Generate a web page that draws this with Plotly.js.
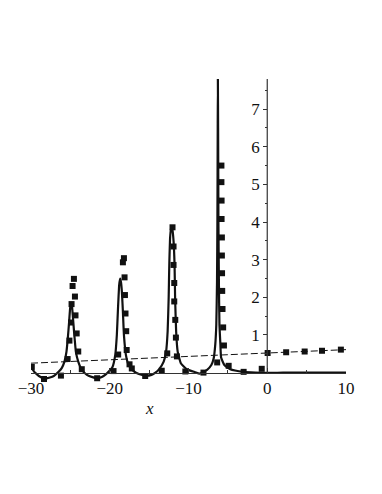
<!DOCTYPE html>
<html>
<head>
<meta charset="utf-8">
<script src="https://cdn.plot.ly/plotly-3.0.1.min.js"></script>
<style>
  html, body { margin: 0; padding: 0; background: #fff; }
  #plot { width: 382px; height: 494px; }
</style>
</head>
<body>
<div id="plot"></div>
<script>
// solid curve
const curveX = [
  -30, -29.5, -29, -28.3, -27.6, -27.1, -26.5, -26.1, -25.75, -25.5, -25.33, -25.16, -25.03, -24.9,
  -24.8, -24.7, -24.53, -24.3, -24.0, -23.55, -22.9, -22.2, -21.6, -21.0, -20.5, -20.16,
  -19.65, -19.3, -19.1, -18.97, -18.8, -18.68, -18.57, -18.46, -18.33, -18.2, -17.95, -17.6,
  -16.97, -16.3, -15.5, -14.7, -14.2, -13.7, -13.15, -12.85, -12.65, -12.52, -12.44, -12.33,
  -12.2, -12.05, -11.9, -11.77, -11.7, -11.57, -11.37, -10.95, -10.23, -9.16, -8.6, -7.64,
  -7.1, -6.8, -6.6, -6.47, -6.38, -6.33, -6.29, -6.27, -6.24, -6.2, -6.14, -6.07, -5.95,
  -5.86, -5.44, -4.7, -3.0, -1.5, 0, 2, 4, 6, 8, 10
];
const curveY = [
  0.14, 0.0, -0.09, -0.16, -0.13, -0.09, 0.02, 0.12, 0.29, 0.55, 0.9, 1.35, 1.71, 1.85,
  1.78, 1.53, 1.08, 0.55, 0.29, 0.07, -0.06, -0.12, -0.15, -0.12, -0.05, 0.02,
  0.15, 0.47, 1.0, 1.62, 2.33, 2.5, 2.4, 2.15, 1.62, 1.0, 0.47, 0.2,
  0.04, -0.04, -0.08, -0.06, 0.0, 0.1, 0.29, 0.55, 1.09, 1.98, 2.86, 3.6,
  3.88, 3.8, 3.5, 2.86, 1.98, 1.09, 0.55, 0.24, 0.09, 0.01, -0.03, 0.07,
  0.2, 0.38, 0.75, 1.27, 2.4, 4.0, 6.5, 7.8, 6.5, 4.0, 2.4, 1.27, 0.75,
  0.4, 0.2, 0.09, 0.02, 0.0, -0.01, 0.0, 0.0, 0.0, 0.0, 0.0
];

// square markers
const pointX = [
  -29.9, -28.35, -26.2, -25.35, -25.12, -24.92, -24.85, -24.72, -24.55, -24.42, -24.35, -24.2,
  -24.0, -23.55, -21.6, -19.52, -18.93, -18.2, -18.33, -18.12, -18.07, -18.0, -17.91, -17.85,
  -17.49, -17.2, -15.5, -13.4, -12.7, -12.03, -11.9, -11.9, -11.81, -11.81, -11.68, -11.6,
  -11.47, -10.4, -8.1, -6.36, -5.82, -5.82, -5.8, -5.8, -5.76, -5.76, -5.74, -5.72, -5.68,
  -5.6, -5.5, -4.9, -3.0, -0.7, 0.05, 2.4, 4.75, 6.95, 9.35
];
const pointY = [
  0.15, -0.17, -0.08, 0.36, 0.85, 1.33, 1.82, 2.30, 2.49, 2.02, 1.52, 1.04,
  0.56, 0.09, -0.15, 0.04, 0.48, 3.04, 2.93, 2.53, 2.06, 1.57, 1.1, 0.6,
  0.22, 0.11, -0.09, 0.05, 0.51, 3.86, 3.35, 2.86, 2.38, 1.89, 1.4, 0.93,
  0.43, 0.03, 0.0, 0.27, 5.5, 5.06, 4.57, 4.08, 3.59, 3.11, 2.64, 2.17, 1.69,
  1.2, 0.72, 0.18, 0.02, 0.1, 0.52, 0.54, 0.56, 0.58, 0.61
];

// dashed line
const dashX = [-30, -20, -10, 0, 10];
const dashY = [0.25, 0.34, 0.43, 0.52, 0.61];

// ticks
const xTicks = [-30, -20, -10, 0, 10];
const xMinor = [-25, -15, -5, 5];
const yTicks = [1, 2, 3, 4, 5, 6, 7];
const yMinor = [0.5, 1.5, 2.5, 3.5, 4.5, 5.5, 6.5, 7.5];

const xRange = [-30, 10];
const yRange = [-0.25, 7.8];

const serif = '"Liberation Serif", "Times New Roman", serif';
const ink = '#111';
const axisInk = '#333';

const traces = [
  {
    x: dashX, y: dashY,
    type: 'scatter', mode: 'lines',
    line: { color: ink, width: 1, dash: '7px,3px' },
    hoverinfo: 'skip', showlegend: false
  },
  {
    x: curveX, y: curveY,
    type: 'scatter', mode: 'lines',
    line: { color: ink, width: 2.2, shape: 'spline', smoothing: 0.4 },
    hoverinfo: 'skip', showlegend: false
  },
  {
    x: pointX, y: pointY,
    type: 'scatter', mode: 'markers',
    marker: { symbol: 'square', size: 6, color: ink },
    hoverinfo: 'skip', showlegend: false
  }
];

// axes cross at the origin, like the original
const yZero = (0 - yRange[0]) / (yRange[1] - yRange[0]);
const xZero = (0 - xRange[0]) / (xRange[1] - xRange[0]);

const layout = {
  width: 382,
  height: 494,
  margin: { l: 31, r: 36, t: 79, b: 112 },
  paper_bgcolor: '#fff',
  plot_bgcolor: '#fff',
  showlegend: false,
  xaxis: {
    range: xRange,
    anchor: 'free',
    position: yZero,
    tickmode: 'array',
    tickvals: xTicks,
    ticks: 'inside',
    ticklen: 5,
    tickcolor: axisInk,
    showline: true,
    linecolor: axisInk,
    linewidth: 1.2,
    showgrid: false,
    zeroline: false,
    tickfont: { family: serif, size: 17, color: ink },
    minor: { tickvals: xMinor, ticks: 'inside', ticklen: 3, tickcolor: axisInk, showgrid: false }
  },
  yaxis: {
    range: yRange,
    anchor: 'free',
    position: xZero,
    side: 'left',
    tickmode: 'array',
    tickvals: yTicks,
    ticks: 'outside',
    ticklen: 4,
    tickcolor: axisInk,
    showline: false,
    showgrid: false,
    zeroline: false,
    tickfont: { family: serif, size: 17, color: ink },
    minor: { tickvals: yMinor, ticks: 'outside', ticklen: 2, tickcolor: axisInk, showgrid: false }
  },
  shapes: [
    // vertical axis only runs above the x axis
    {
      type: 'line', xref: 'x', yref: 'y',
      x0: 0, x1: 0, y0: 0, y1: yRange[1],
      line: { color: axisInk, width: 1.2 }
    }
  ],
  annotations: [
    {
      text: '<i>x</i>',
      xref: 'x', yref: 'paper',
      x: -15, y: -0.086,
      showarrow: false,
      xanchor: 'center', yanchor: 'middle',
      font: { family: serif, size: 17, color: ink }
    }
  ]
};

Plotly.newPlot('plot', traces, layout, { displayModeBar: false, staticPlot: true });
</script>
</body>
</html>
